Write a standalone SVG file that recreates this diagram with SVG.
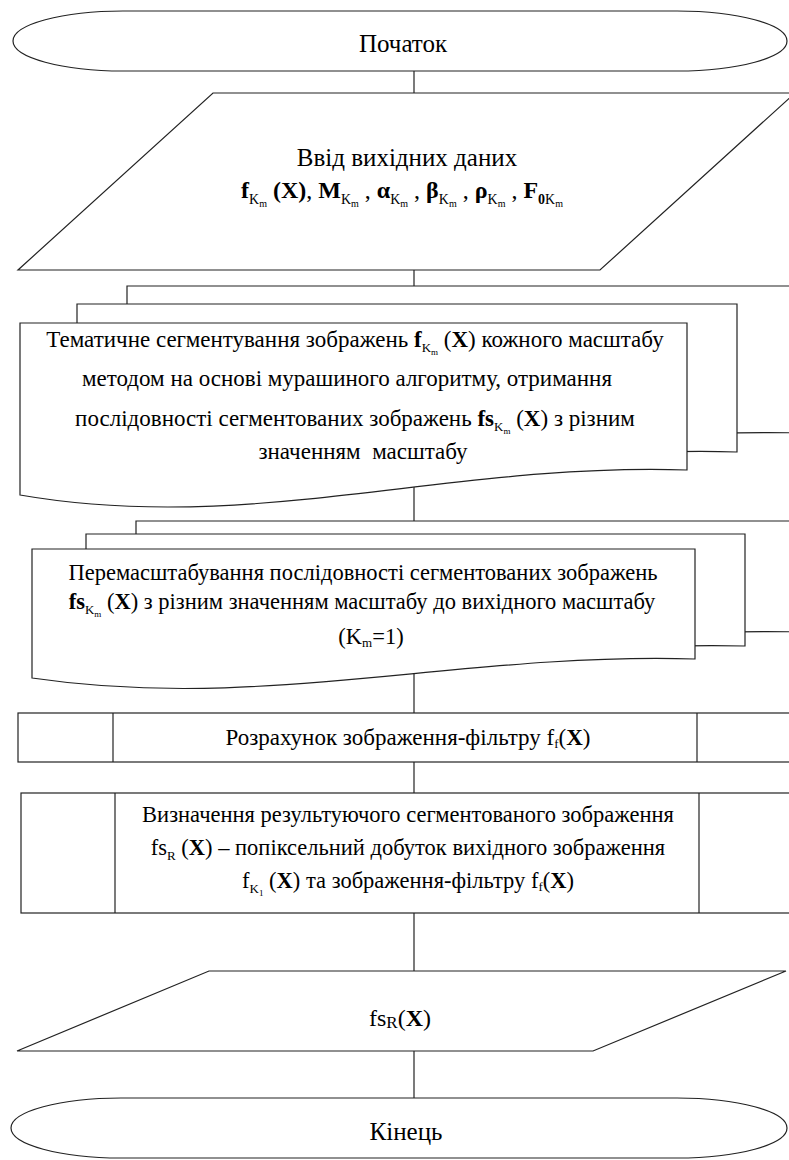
<svg xmlns="http://www.w3.org/2000/svg" width="789" height="1160" viewBox="0 0 789 1160">
<style>
.s{fill:#fff;stroke:#222;stroke-width:1.2}
.l{stroke:#222;stroke-width:1.2;fill:none}
.t{font-family:"Liberation Serif","Times New Roman",serif;fill:#000;text-anchor:middle}
.b{font-weight:bold}
</style>
<rect width="789" height="1160" fill="#fff"/>
<g id="connectors">
<line class="l" x1="414" y1="71" x2="414" y2="93"/>
<line class="l" x1="414" y1="270" x2="414" y2="286"/>
<line class="l" x1="414" y1="487" x2="414" y2="521"/>
<line class="l" x1="414" y1="672" x2="414" y2="713"/>
<line class="l" x1="414" y1="762" x2="414" y2="793"/>
<line class="l" x1="414" y1="913" x2="414" y2="971"/>
<line class="l" x1="414" y1="1051" x2="414" y2="1098"/>
</g>
<g id="start">
<path class="s" d="M123,11 H677 A110,30 0 0 1 677,71 H123 A110,30 0 0 1 123,11 Z"/>
<text class="t" x="403" y="52" font-size="25">Початок</text>
</g>
<g id="input">
<polygon class="s" points="213,93 795,93 600,270 18,270"/>
<text class="t" x="407" y="166" font-size="25">Ввід вихідних даних</text>
<text class="t" x="402" y="198" font-size="24"><tspan class="b">f</tspan><tspan font-size="14" dy="6">K</tspan><tspan font-size="10" dy="3">m</tspan><tspan class="b" dy="-9"> (X)</tspan>, <tspan class="b">M</tspan><tspan font-size="14" dy="6">K</tspan><tspan font-size="10" dy="3">m</tspan><tspan dy="-9"> , </tspan><tspan class="b">α</tspan><tspan font-size="14" dy="6">K</tspan><tspan font-size="10" dy="3">m</tspan><tspan dy="-9"> , </tspan><tspan class="b">β</tspan><tspan font-size="14" dy="6">K</tspan><tspan font-size="10" dy="3">m</tspan><tspan dy="-9"> , </tspan><tspan class="b">ρ</tspan><tspan font-size="14" dy="6">K</tspan><tspan font-size="10" dy="3">m</tspan><tspan dy="-9"> , </tspan><tspan class="b">F</tspan><tspan class="b" font-size="14" dy="6">0</tspan><tspan font-size="14">K</tspan><tspan font-size="10" dy="3">m</tspan></text>
</g>
<g id="segmentation">
<path class="s" d="M127,286 H800 V433 C560,426 360,497 127,458 Z"/>
<path class="s" d="M77,304 H737 V452 C500,444 300,517 77,477 Z"/>
<path class="s" d="M20,323 H687 V470 C450,462 250,535 20,495 Z"/>
<text class="t" x="355" y="347" font-size="23">Тематичне сегментування зображень <tspan class="b">f</tspan><tspan font-size="13" dy="5">K</tspan><tspan font-size="9" dy="3">m</tspan><tspan dy="-8"> (</tspan><tspan class="b">X</tspan>) кожного масштабу</text>
<text class="t" x="347" y="386" font-size="23">методом на основі мурашиного алгоритму, отримання</text>
<text class="t" x="355" y="426" font-size="23">послідовності сегментованих зображень <tspan class="b">fs</tspan><tspan font-size="13" dy="5">K</tspan><tspan font-size="9" dy="3">m</tspan><tspan dy="-8"> (</tspan><tspan class="b">X</tspan>) з різним</text>
<text class="t" x="363" y="459" font-size="23" xml:space="preserve">значенням  масштабу</text>
</g>
<g id="rescaling">
<path class="s" d="M136,521 H800 V632 C560,626 365,686 136,651 Z"/>
<path class="s" d="M86,534 H745 V646 C510,640 315,700 86,665 Z"/>
<path class="s" d="M32,549 H695 V659 C458,652 262,712 32,678 Z"/>
<text class="t" x="363" y="580" font-size="22.5">Перемасштабування послідовності сегментованих зображень</text>
<text class="t" x="362" y="609" font-size="22.5"><tspan class="b">fs</tspan><tspan font-size="13" dy="5">K</tspan><tspan font-size="9" dy="3">m</tspan><tspan dy="-8"> (</tspan><tspan class="b">X</tspan>)  з різним значенням масштабу до вихідного масштабу</text>
<text class="t" x="371" y="644" font-size="22.5">(K<tspan font-size="13" dy="3">m</tspan><tspan dy="-3">=1)</tspan></text>
</g>
<g id="filter">
<rect class="s" x="18" y="713" width="782" height="49"/>
<line class="l" x1="113" y1="713" x2="113" y2="762"/>
<line class="l" x1="697" y1="713" x2="697" y2="762"/>
<text class="t" x="408" y="745" font-size="23">Розрахунок зображення-фільтру f<tspan font-size="13" dy="3">f</tspan><tspan dy="-3">(</tspan><tspan class="b">X</tspan>)</text>
</g>
<g id="result">
<rect class="s" x="21" y="793" width="779" height="120"/>
<line class="l" x1="115" y1="793" x2="115" y2="913"/>
<line class="l" x1="699" y1="793" x2="699" y2="913"/>
<text class="t" x="408" y="822" font-size="22.5">Визначення результуючого сегментованого зображення</text>
<text class="t" x="408" y="855" font-size="22.5">fs<tspan font-size="13" dy="5">R</tspan><tspan dy="-5"> (</tspan><tspan class="b">X</tspan>) – попіксельний добуток вихідного зображення</text>
<text class="t" x="408" y="888" font-size="22.5">f<tspan font-size="13" dy="5">K</tspan><tspan font-size="9" dy="3">1</tspan><tspan dy="-8"> (</tspan><tspan class="b">X</tspan>) та зображення-фільтру f<tspan font-size="13" dy="3">f</tspan><tspan dy="-3">(</tspan><tspan class="b">X</tspan>)</text>
</g>
<g id="output">
<polygon class="s" points="209,971 786,971 593,1051 17,1051"/>
<text class="t" x="400" y="1026" font-size="24">fs<tspan font-size="17" dy="2">R</tspan><tspan dy="-2">(</tspan><tspan class="b">X</tspan>)</text>
</g>
<g id="end">
<path class="s" d="M121,1098 H677 A110,30 0 0 1 677,1158 H121 A110,30 0 0 1 121,1098 Z"/>
<text class="t" x="406" y="1140" font-size="25">Кінець</text>
</g>
</svg>
